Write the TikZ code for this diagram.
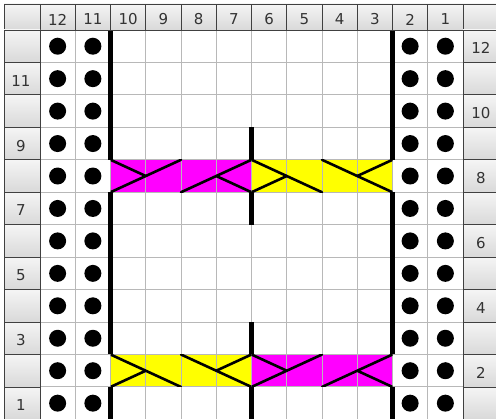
\documentclass[tikz,border=0pt]{standalone}
\usepackage{fontspec}
\setmainfont{DejaVu Sans}
\definecolor{Cmagenta}{RGB}{255,0,255}
\definecolor{Cyellow}{RGB}{255,255,0}
\definecolor{Cgrid}{RGB}{184,184,184}
\definecolor{Ctext}{RGB}{51,51,51}
\newcommand{\cw}{35.25}
\newcommand{\rh}{32.45}

\begin{document}
\begin{tikzpicture}[
  x=1pt, y=-1pt,
  font=\fontsize{15}{17}\selectfont,
  hdr/.style={draw=black!75, line width=0.8pt, top color=gray!8, bottom color=gray!30},
  num/.style={text=Ctext, inner sep=0pt},
  grd/.style={draw=Cgrid, line width=1pt},
  wall/.style={draw=black, line width=4.5pt},
  twist/.style={draw=black, line width=2.6pt, line cap=round},
  purl/.style={fill=black},
  lcross/.pic={
    \begin{scope}
      \clip (0,0) rectangle (141,32.45);
      \draw[twist] (0,0) -- (35.25,16.225);
      \draw[twist] (0,32.45) -- (70.5,0);
      \draw[twist] (70.5,32.45) -- (141,0);
      \draw[twist] (105.75,16.225) -- (141,32.45);
    \end{scope}
  },
  rcross/.pic={
    \begin{scope}
      \clip (0,0) rectangle (141,32.45);
      \draw[twist] (0,32.45) -- (35.25,16.225);
      \draw[twist] (0,0) -- (70.5,32.45);
      \draw[twist] (70.5,0) -- (141,32.45);
      \draw[twist] (105.75,16.225) -- (141,0);
    \end{scope}
  }
]
\useasboundingbox (0,0) rectangle (496,419);
\clip (0,0) rectangle (496,419);
\fill[white] (0,0) rectangle (496,419);

%% ——— Cables (relleno) ———
\fill[Cmagenta] (110.5,159.8) rectangle (251.5,192.25);
\fill[Cyellow]  (251.5,159.8) rectangle (392.5,192.25);
\fill[Cyellow]  (110.5,354.5) rectangle (251.5,386.95);
\fill[Cmagenta] (251.5,354.5) rectangle (392.5,386.95);

%% ——— Rejilla ———
\foreach \i in {0,...,12}
  \draw[grd] ({40+\i*\cw},30) -- ({40+\i*\cw},419.4);
\foreach \j in {0,...,12}
  \draw[grd] (40,{30+\j*\rh}) -- (463,{30+\j*\rh});

%% ——— Cruces ———
\pic at (110.5,159.8) {lcross};
\pic at (251.5,159.8) {rcross};
\pic at (110.5,354.5) {rcross};
\pic at (251.5,354.5) {lcross};

%% ——— Puntos reveses ———
\foreach \n in {12,11,2,1}
  \foreach \k in {1,...,12}
    \fill[purl] ({40+(12-\n+0.5)*\cw},{30+(12-\k+0.5)*\rh}) circle[radius=8.5];

%% ——— Bordes gruesos ———
\draw[wall] (110.5,30) -- (110.5,159.8);
\draw[wall] (110.5,192.25) -- (110.5,354.5);
\draw[wall] (110.5,386.95) -- (110.5,419.4);
\draw[wall] (392.5,30) -- (392.5,159.8);
\draw[wall] (392.5,192.25) -- (392.5,354.5);
\draw[wall] (392.5,386.95) -- (392.5,419.4);
\draw[wall] (251.5,127.35) -- (251.5,159.8);
\draw[wall] (251.5,192.25) -- (251.5,224.7);
\draw[wall] (251.5,322.05) -- (251.5,354.5);
\draw[wall] (251.5,386.95) -- (251.5,419.4);

%% ——— Cabecera de columnas ———
\path[hdr] (4,4) rectangle (40,30);
\path[hdr] (463,4) rectangle (499,30);
\foreach \n in {1,...,12}{
  \pgfmathsetmacro{\xl}{40+(12-\n)*\cw}
  \path[hdr] (\xl,4) rectangle ++(\cw,26);
  \node[num] (top\n) at (\xl+\cw/2,19.5) {\n};
}

%% ——— Cabecera de filas ———
\foreach \k in {1,...,12}{
  \pgfmathsetmacro{\yt}{30+(12-\k)*\rh}
  \path[hdr] (4,\yt) rectangle ++(36,\rh);
  \path[hdr] (463,\yt) rectangle ++(36,\rh);
}
\foreach \k in {1,3,...,11}
  \node[num] (left\k) at (21,{30+(12-\k+0.5)*\rh+2}) {\k};
\foreach \k in {2,4,...,12}
  \node[num] (right\k) at (481,{30+(12-\k+0.5)*\rh+2}) {\k};

\end{tikzpicture}
\end{document}
